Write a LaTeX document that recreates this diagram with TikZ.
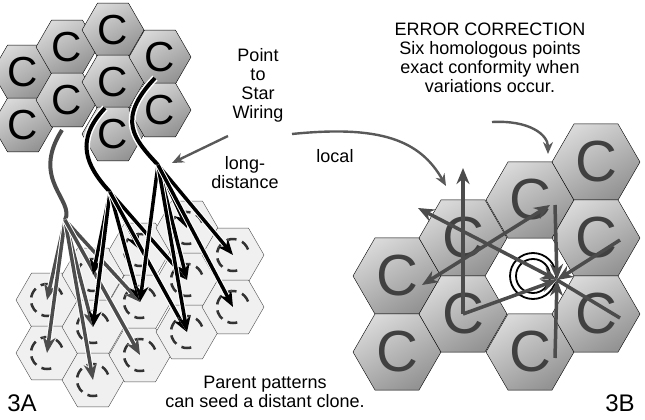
\documentclass[tikz,border=0pt]{standalone}
\usepackage{fontspec}
\setmainfont{Liberation Sans}
\usetikzlibrary{shapes.geometric,arrows.meta}
\tikzset{
  hexdark/.style={regular polygon,regular polygon sides=6,minimum size=#1,inner sep=0pt,draw=black,thin,
    shading=axis,top color=gray!30,bottom color=gray!85,shading angle=30},
  hexpale/.style={regular polygon,regular polygon sides=6,minimum size=62pt,inner sep=0pt,draw=black!70,thin,fill=gray!12},
  cletter/.style={font=\fontsize{#1}{#1}\selectfont},
  wire/.style={line width=4pt,preaction={draw=white,line width=7pt}},
  fan/.style={line width=3.5pt,-{Stealth[length=16pt,width=13pt]},preaction={draw=white,line width=5.5pt}},
  pointer/.style={gray!70!black,line width=2.4pt,-{Stealth[length=12pt,width=10pt]}},
  label/.style={font=\fontsize{18}{19}\selectfont,align=center},
}
\begin{document}
\begin{tikzpicture}[x=1pt,y=-1pt]
\useasboundingbox (0,0) rectangle (645,420);

% top cluster
\foreach \n/\x/\y in {1/23/72,2/23/125,3/67/47,4/67/100,5/113/30,6/113/82,7/113/134,8/160/57,9/160/110}{
  \node[hexdark=62pt] (t\n) at (\x,\y) {};
  \node[cletter=42] at (t\n) {C};
}

% pale cluster
\foreach \n/\x/\y in {1/47/300,2/47/353,3/93/275,4/93/327,5/93/380,6/140/250,7/140/302,8/140/355,9/187/228,10/187/280,11/187/332,12/233/255,13/233/307}{
  \node[hexpale] (b\n) at (\x,\y) {};
  \draw[black!80,line width=2.5pt,dash pattern=on 10pt off 6pt] ([shift={(20:16pt)}]b\n.center) arc (20:300:16pt);
}

% wires
\coordinate (gf) at (65,220);
\coordinate (bf1) at (110,192);
\coordinate (bf2) at (158,165);
\draw[wire,gray!60!black] (62,130) .. controls (30,180) and (75,200) .. (gf);
\draw[wire,black] (105,108) .. controls (75,140) and (85,165) .. (bf1);
\draw[wire,black] (155,78) .. controls (115,120) and (135,140) .. (bf2);
\foreach \t in {b1,b2,b4,b5,b7,b8}
  \draw[fan,gray!60!black] (gf) -- (\t.center);
\foreach \t in {b3,b4,b6,b7,b10,b11}
  \draw[fan,black] (bf1) -- (\t.center);
\foreach \t in {b7,b9,b10,b11,b12,b13}
  \draw[fan,black] (bf2) -- (\t.center);

% right cluster
\foreach \n/\x/\y in {1/397/276,2/397/352,3/463/238,4/463/314,5/530/200,6/530/352,7/596/162,8/596/238,9/596/314}{
  \node[hexdark=88pt] (r\n) at (\x,\y) {};
  \node[cletter=58,gray!50!black] at (r\n) {C};
}
\draw[line width=1.8pt] (533,276) circle (23pt) (533,276) circle (17pt);
\coordinate (xm) at (557,280);
\draw[white,thick] (549,272) -- (565,288) (549,288) -- (565,272);
\tikzset{rarrow/.style={gray!60!black,line width=3.5pt,-{Stealth[length=16pt,width=13pt]}}}
\draw[rarrow] (r4.center) -- (463,168);
\draw[rarrow] (555,205) -- (xm);
\draw[rarrow] (620,240) -- (xm);
\draw[rarrow] (555,358) -- (xm);
\draw[rarrow] (r4.center) -- (xm);
\draw[gray!60!black,line width=3.5pt] (620,318) -- (xm);
\draw[rarrow,{Stealth[length=16pt,width=13pt]}-{Stealth[length=16pt,width=13pt]}] (418,208) -- (xm);
\draw[rarrow,{Stealth[length=16pt,width=13pt]}-{Stealth[length=16pt,width=13pt]}] (422,285) -- (550,205);

% labels
\node[label] (wiring) at (258,85) {Point\\to\\Star\\Wiring};
\node[label] (longd) at (245,173) {long-\\distance};
\node[label] (local) at (335,156) {local};
\node[label] (err) at (490,58) {ERROR CORRECTION\\Six homologous points\\exact conformity when\\variations occur.};
\node[label] (parent) at (265,392) {Parent patterns\\can seed a distant clone.};
\node[font=\fontsize{24}{24}\selectfont] (la) at (22,403) {3A};
\node[font=\fontsize{24}{24}\selectfont] (lb) at (620,403) {3B};
\draw[pointer] (228,136) -- (172,163);
\draw[pointer] (292,134) .. controls (380,125) and (420,140) .. (446,186);
\draw[pointer] (492,122) .. controls (530,120) and (548,135) .. (548,154);
\end{tikzpicture}
\end{document}
